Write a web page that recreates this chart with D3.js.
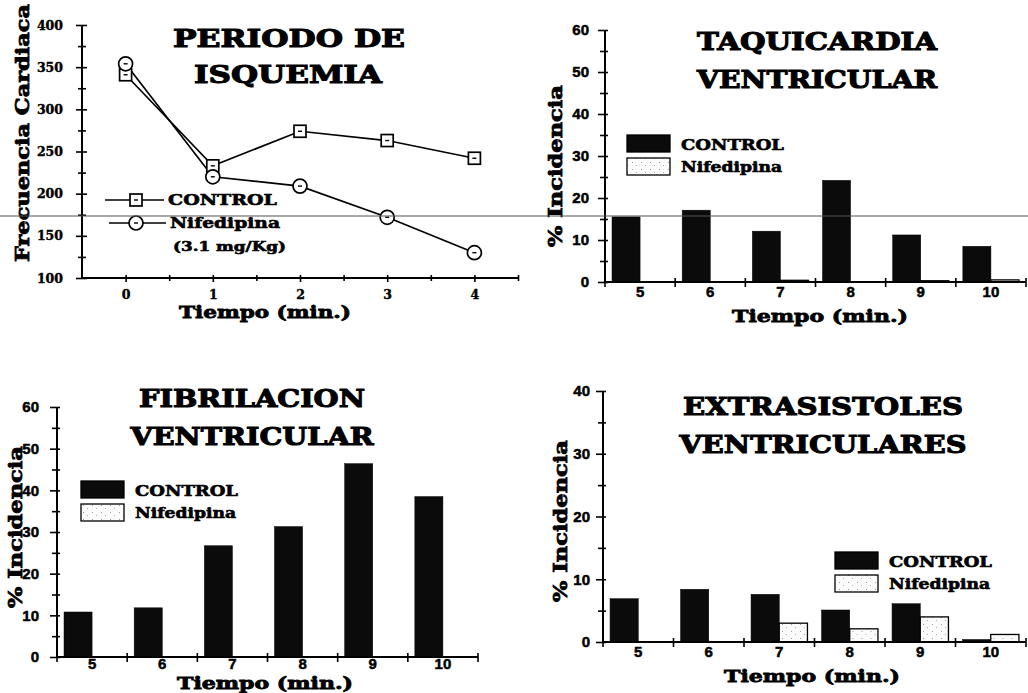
<!DOCTYPE html>
<html><head><meta charset="utf-8">
<script src="https://cdn.jsdelivr.net/npm/d3@7"></script>
<style>body{margin:0;background:#fff}svg{display:block}</style>
</head><body><svg id="c" width="1028" height="693"></svg>
<script>
// ---------- data ----------
const heartTimes = [0, 1, 2, 3, 4];
const heartControl = [341, 233, 274, 263, 242];
const heartNifedipina = [354, 220, 209, 172, 130];
const heartYTicks = [100, 150, 200, 250, 300, 350, 400];
const minutes = ["5", "6", "7", "8", "9", "10"];
const seriesNames = ["CONTROL", "Nifedipina"];
const tvControl = [15.5, 17.1, 12.1, 24.2, 11.2, 8.5];
const tvNifedipina = [0, 0, 0.4, 0, 0.3, 0.5];
const fvControl = [10.8, 11.8, 26.7, 31.3, 46.4, 38.5];
const fvNifedipina = [0, 0, 0, 0, 0, 0];
const esControl = [6.9, 8.4, 7.6, 5.1, 6.1, 0.4];
const esNifedipina = [0, 0, 3.0, 2.1, 4.0, 1.2];
const pctTicks60 = [0, 10, 20, 30, 40, 50, 60];
const pctTicks40 = [0, 10, 20, 30, 40];

// ---------- setup ----------
const svg = d3.select("#c");
const SERIF = "'DejaVu Serif', 'Liberation Serif', serif";
const SANS = "'Liberation Sans', Arial, sans-serif";
const defs = svg.append("defs");
const pat = defs.append("pattern").attr("id", "speck").attr("patternUnits", "userSpaceOnUse")
  .attr("width", 9).attr("height", 7);
pat.append("rect").attr("width", 9).attr("height", 7).attr("fill", "#fbfbfb");
pat.append("rect").attr("x", 2).attr("y", 1).attr("width", 1).attr("height", 1).attr("fill", "#9a9a9a");
pat.append("rect").attr("x", 6).attr("y", 4).attr("width", 1).attr("height", 1).attr("fill", "#b0b0b0");
const fills = { "CONTROL": "#0b0b0b", "Nifedipina": "url(#speck)" };

function txt(x, y, s, size, opts = {}) {
  const t = svg.append("text").attr("x", x).attr("y", y).text(s)
    .attr("font-family", opts.family || SERIF).attr("font-weight", "bold")
    .attr("font-size", size).attr("fill", "#000")
    .attr("stroke", "#000").attr("stroke-width", opts.sw != null ? opts.sw : 0.6)
    .attr("text-anchor", opts.anchor || "start");
  if (opts.len) t.attr("textLength", opts.len).attr("lengthAdjust", "spacingAndGlyphs");
  if (opts.rotate) t.attr("transform", `rotate(-90,${x},${y})`);
  return t;
}

function crossTicks(g, outer, inner, horizontal) {
  g.select(".domain").remove();
  g.selectAll(".tick line").attr("stroke", "#000").attr("stroke-width", 1.6);
  if (horizontal) g.selectAll(".tick line").attr("x1", inner).attr("x2", -outer);
  else g.selectAll(".tick line").attr("y1", -inner).attr("y2", outer);
}

// ---------- panel 1: line chart ----------
(function () {
  const x = d3.scaleLinear().domain([-0.5, 4.5]).range([82, 518]);
  const y = d3.scaleLinear().domain([100, 400]).range([278, 25]);
  const gy2 = svg.append("g").attr("transform", "translate(82,0)")
    .call(d3.axisLeft(y).tickValues(d3.range(125, 400, 50)).tickFormat(""));
  crossTicks(gy2, 4, 4, true);
  const gy = svg.append("g").attr("transform", "translate(82,0)")
    .call(d3.axisLeft(y).tickValues(heartYTicks).tickPadding(13));
  crossTicks(gy, 6, 5, true);
  gy.selectAll("text").attr("font-family", SERIF).attr("font-weight", "bold").attr("font-size", 12.5)
    .attr("fill", "#000").attr("stroke", "#000").attr("stroke-width", 0.4);
  const gx2 = svg.append("g").attr("transform", "translate(0,278)")
    .call(d3.axisBottom(x).tickValues([0.5, 1.5, 2.5, 3.5, 4.5]).tickFormat(""));
  crossTicks(gx2, 3, 3, false);
  const gx = svg.append("g").attr("transform", "translate(0,278)")
    .call(d3.axisBottom(x).tickValues(heartTimes).tickFormat(d3.format("d")).tickPadding(6));
  crossTicks(gx, 4, 3, false);
  gx.selectAll("text").attr("font-family", SERIF).attr("font-weight", "bold").attr("font-size", 12.5)
    .attr("fill", "#000").attr("stroke", "#000").attr("stroke-width", 0.4);
  svg.append("line").attr("x1", 82).attr("x2", 82).attr("y1", y(400)).attr("y2", 279).attr("stroke", "#000").attr("stroke-width", 2);
  svg.append("line").attr("x1", 82).attr("x2", 518).attr("y1", 278).attr("y2", 278).attr("stroke", "#000").attr("stroke-width", 2);

  const line = d3.line().x((d, i) => x(heartTimes[i])).y(d => y(d));
  svg.append("path").datum(heartControl).attr("d", line).attr("fill", "none").attr("stroke", "#000").attr("stroke-width", 1.7);
  svg.append("path").datum(heartNifedipina).attr("d", line).attr("fill", "none").attr("stroke", "#000").attr("stroke-width", 1.7);

  function square(cx, cy) {
    svg.append("rect").attr("x", cx - 6).attr("y", cy - 6).attr("width", 12).attr("height", 12)
      .attr("fill", "#fff").attr("stroke", "#000").attr("stroke-width", 1.7);
    svg.append("line").attr("x1", cx - 2).attr("x2", cx + 2).attr("y1", cy).attr("y2", cy).attr("stroke", "#000").attr("stroke-width", 1.4);
  }
  function circle(cx, cy) {
    svg.append("circle").attr("cx", cx).attr("cy", cy).attr("r", 7)
      .attr("fill", "#fff").attr("stroke", "#000").attr("stroke-width", 1.7);
    svg.append("line").attr("x1", cx - 2).attr("x2", cx + 2).attr("y1", cy).attr("y2", cy).attr("stroke", "#000").attr("stroke-width", 1.4);
  }
  heartControl.forEach((v, i) => square(x(heartTimes[i]), y(v)));
  heartNifedipina.forEach((v, i) => circle(x(heartTimes[i]), y(v)));

  // legend
  svg.append("line").attr("x1", 105).attr("x2", 164).attr("y1", 200).attr("y2", 200).attr("stroke", "#000").attr("stroke-width", 1.7);
  square(136, 200);
  svg.append("line").attr("x1", 109).attr("x2", 166).attr("y1", 223).attr("y2", 223).attr("stroke", "#000").attr("stroke-width", 1.7);
  circle(136, 223);
  txt(168, 205, seriesNames[0], 15, { len: 109 });
  txt(170, 228, seriesNames[1], 15, { len: 110 });
  txt(173, 251, "(3.1 mg/Kg)", 13, { len: 113 });

  txt(289, 47, "PERIODO DE", 25, { anchor: "middle", len: 232, sw: 1.1 });
  txt(288, 83, "ISQUEMIA", 25, { anchor: "middle", len: 188, sw: 1.1 });
  txt(265, 318, "Tiempo (min.)", 17, { anchor: "middle", len: 172, sw: 0.8 });
  txt(29, 262, "Frecuencia Cardiaca", 19, { rotate: true, len: 258, sw: 0.8 });
})();

// ---------- bar panels ----------
function barPanel(cfg) {
  const x0 = d3.scaleBand().domain(minutes).range([cfg.left, cfg.right]);
  const x1 = d3.scaleBand().domain(seriesNames).range([0, x0.bandwidth()]).paddingOuter(0.25);
  const y = d3.scaleLinear().domain([0, cfg.max]).range([cfg.bottom, cfg.top]);
  const rows = minutes.map((m, i) => ({ m, vals: [cfg.control[i], cfg.nif[i]] }));
  const g = svg.append("g");
  g.selectAll("g.grp").data(rows).join("g").attr("class", "grp")
    .attr("transform", d => `translate(${x0(d.m)},0)`)
    .selectAll("rect").data(d => d.vals.map((v, k) => ({ k: seriesNames[k], v })))
    .join("rect")
    .attr("x", d => x1(d.k)).attr("width", x1.bandwidth())
    .attr("y", d => y(d.v)).attr("height", d => cfg.bottom - y(d.v))
    .attr("fill", d => fills[d.k])
    .attr("stroke", "#000").attr("stroke-width", d => d.k === "CONTROL" ? 0.5 : 1.3);

  const gy2 = svg.append("g").attr("transform", `translate(${cfg.left},0)`)
    .call(d3.axisLeft(y).tickValues(d3.range(5, cfg.max, 10)).tickFormat(""));
  crossTicks(gy2, 5, 3, true);
  const gy = svg.append("g").attr("transform", `translate(${cfg.left},0)`)
    .call(d3.axisLeft(y).tickValues(cfg.ticks).tickPadding(cfg.pad));
  crossTicks(gy, 7, 3, true);
  gy.selectAll("text").attr("font-family", SANS).attr("font-weight", "bold").attr("font-size", 15)
    .attr("fill", "#000").attr("stroke", "#000").attr("stroke-width", 0.5);
  svg.append("line").attr("x1", cfg.left).attr("x2", cfg.left).attr("y1", cfg.top).attr("y2", cfg.bottom + 1).attr("stroke", "#000").attr("stroke-width", 2);
  const bounds = minutes.map(m => x0(m)).concat([cfg.right]);
  svg.append("g").selectAll("line").data(bounds).join("line")
    .attr("x1", d => d).attr("x2", d => d).attr("y1", cfg.bottom - 4).attr("y2", cfg.bottom + 5)
    .attr("stroke", "#000").attr("stroke-width", 1.6);
  svg.append("line").attr("x1", cfg.left).attr("x2", cfg.right).attr("y1", cfg.bottom).attr("y2", cfg.bottom).attr("stroke", "#000").attr("stroke-width", 2);
  const gx = svg.append("g").attr("transform", `translate(0,${cfg.bottom})`)
    .call(d3.axisBottom(x0).tickSize(0).tickPadding(cfg.xpad));
  gx.select(".domain").remove();
  gx.selectAll("text").attr("font-family", SANS).attr("font-weight", "bold").attr("font-size", 15)
    .attr("fill", "#000").attr("stroke", "#000").attr("stroke-width", 0.5);

  const L = cfg.legend;
  seriesNames.forEach((s, k) => {
    svg.append("rect").attr("x", L.x).attr("y", L.y + k * 23).attr("width", 43).attr("height", 17)
      .attr("fill", fills[s]).attr("stroke", "#000").attr("stroke-width", 1.3);
    txt(L.x + 54, L.y + 15 + k * 22, s, 14.5, { len: k === 0 ? 103 : 101 });
  });
  txt(cfg.tx, cfg.t1y, cfg.title[0], 25, { anchor: "middle", len: cfg.tl[0], sw: 1.1 });
  txt(cfg.tx, cfg.t1y + 38, cfg.title[1], 25, { anchor: "middle", len: cfg.tl[1], sw: 1.1 });
  txt(cfg.xlx, cfg.xly, "Tiempo (min.)", cfg.xls, { anchor: "middle", len: 176, sw: 0.8 });
  txt(cfg.ylx, cfg.yly, "% Incidencia", 19, { anchor: "middle", rotate: true, len: 162, sw: 0.8 });
}

barPanel({ left: 605, right: 1026, top: 30, bottom: 282, max: 60, ticks: pctTicks60, pad: 10, xpad: 4,
  control: tvControl, nif: tvNifedipina, legend: { x: 627, y: 135 },
  title: ["TAQUICARDIA", "VENTRICULAR"], tl: [240, 240], tx: 817, t1y: 50,
  xlx: 820, xly: 322, xls: 17, ylx: 562, yly: 166 });

barPanel({ left: 57, right: 478, top: 407, bottom: 657, max: 60, ticks: pctTicks60, pad: 12, xpad: 1,
  control: fvControl, nif: fvNifedipina, legend: { x: 81, y: 481 },
  title: ["FIBRILACION", "VENTRICULAR"], tl: [226, 243], tx: 252, t1y: 407,
  xlx: 265, xly: 689, xls: 16, ylx: 22, yly: 527 });

barPanel({ left: 603, right: 1026, top: 391, bottom: 642, max: 40, ticks: pctTicks40, pad: 7, xpad: 4,
  control: esControl, nif: esNifedipina, legend: { x: 835, y: 552 },
  title: ["EXTRASISTOLES", "VENTRICULARES"], tl: [280, 287], tx: 823, t1y: 415,
  xlx: 812, xly: 682, xls: 17, ylx: 567, yly: 521 });

// scanner line across the page, as in the reference
svg.append("line").attr("x1", 0).attr("x2", 1028).attr("y1", 216).attr("y2", 216)
  .attr("stroke", "#555").attr("stroke-width", 1);
</script></body></html>
